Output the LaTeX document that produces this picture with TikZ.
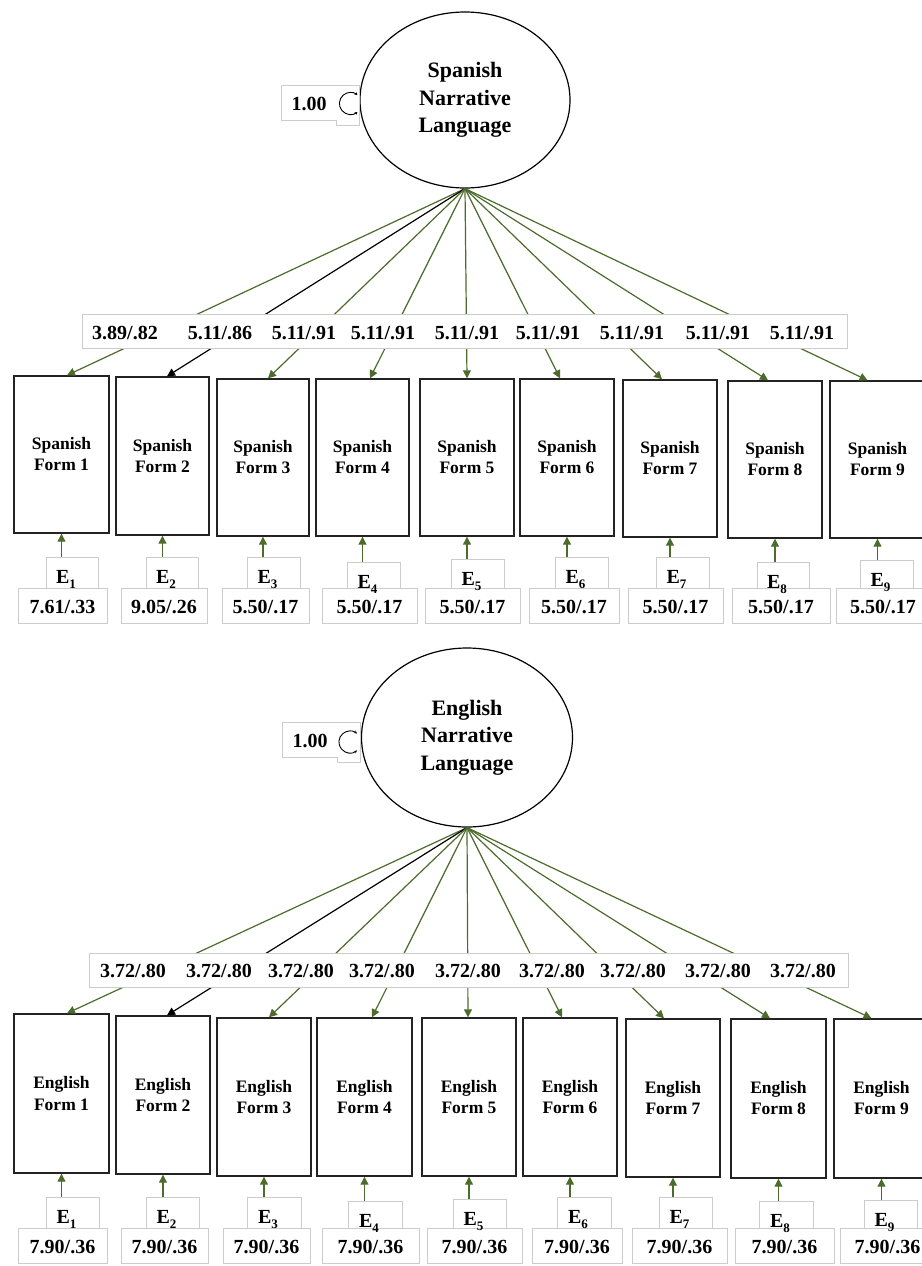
\documentclass[tikz,border=0pt]{standalone}
\usepackage{fontspec}
\setmainfont{Liberation Serif}
\usetikzlibrary{arrows.meta,shapes.geometric,calc}
\definecolor{lgreen}{RGB}{76,108,44}
\definecolor{gbox}{RGB}{204,204,204}
\definecolor{dbox}{RGB}{35,35,35}
\newcommand\Esb[1]{E\raisebox{-0.28em}{\fontsize{13}{13}\selectfont #1}}
\tikzset{
 indbox/.style={draw=dbox, line width=1.4pt, fill=white, inner sep=0pt, align=center, font=\fontsize{17.5}{21}\selectfont\bfseries},
 gbx/.style={draw=gbox, line width=0.9pt, fill=white, inner sep=0pt},
 latent/.style={draw=black, line width=1.2pt, ellipse, fill=white, inner sep=0pt, align=center, font=\fontsize{22}{27.5}\selectfont\bfseries},
 loadarr/.style={line width=1.2pt, -{Triangle[length=8pt,width=8pt]}},
 errarr/.style={line width=1.2pt, lgreen, -{Triangle[length=8pt,width=8pt]}},
 lbltxt/.style={font=\fontsize{20}{24}\selectfont\bfseries, inner sep=0pt, anchor=base},
 looparr/.style={line width=0.9pt, black, {Stealth[length=3pt,width=3pt]}-{Stealth[length=3pt,width=3pt]}},
}
\begin{document}
\begin{tikzpicture}[x=1pt,y=-1pt]
\fill[white] (0,0) rectangle (921,1266);
\useasboundingbox (0,0) rectangle (921,1266);

% ================= Spanish =================
\node[latent, minimum width=210pt, minimum height=176pt] (sl) at (465,100) {Spanish\\Narrative\\Language};
\draw[gbx] (281,85) -- (359,85) -- (359,125) -- (336,125) -- (336,120) -- (281,120) -- cycle;
\node[lbltxt] (svar) at (309,110) {1.00};
\coordinate (slp) at ($(sl.west)+(-9,3.5)$);
\draw[looparr] ($(slp)+(50:11)$) arc[start angle=50,end angle=310,radius=11];

\foreach \i/\bl/\br/\bt/\bb/\toff/\lc in {
 1/14/109/376/533/5.5/lgreen, 2/116/209/377/535/4.5/black, 3/217/309/379/536/5/lgreen,
 4/316/409/379/536/7.5/lgreen, 5/420/514/379/536/0/lgreen, 6/520/614/379/536/-7/lgreen,
 7/623/717/380/537/-8/lgreen, 8/728/822/381/538/-7/lgreen, 9/830/925/381/538/-10/lgreen}{
 \pgfmathsetmacro\cx{(\bl+\br)/2}
 \pgfmathsetmacro\cy{(\bt+\bb)/2}
 \pgfmathsetmacro\w{\br-\bl}
 \pgfmathsetmacro\h{\bb-\bt}
 \node[indbox, minimum width=\w pt, minimum height=\h pt] (sb\i) at (\cx,\cy) {Spanish\\Form \i};
 \coordinate (st\i) at ($(sb\i.north)+(\toff,0)$);
 \draw[loadarr, \lc] (sl.south) -- (st\i);
}
\node[gbx, minimum width=765pt, minimum height=34pt] (slab) at (464.5,331) {};
\foreach \i/\lx/\la/\lb in {1/125/3.89/.82, 2/220/5.11/.86, 3/304/5.11/.91, 4/383/5.11/.91,
 5/467/5.11/.91, 6/548/5.11/.91, 7/632/5.11/.91, 8/718/5.11/.91, 9/802/5.11/.91}{
 \node[lbltxt] (sll\i) at (\lx,339) {\la/\lb};
}
\foreach \i/\el/\er/\et/\vl/\vr/\va/\vb in {
 1/46/98/557/18/107/7.61/.33, 2/146/198/557/121/207/9.05/.26, 3/247/300/557/222/309/5.50/.17,
 4/347/400/562/322/417/5.50/.17, 5/451/504/559/425/520/5.50/.17, 6/555/608/557/529/619/5.50/.17,
 7/656/709/557/628/723/5.50/.17, 8/757/809/562/732/830/5.50/.17, 9/860/913/560/836/930/5.50/.17}{
 \pgfmathsetmacro\ecx{(\el+\er)/2}
 \pgfmathsetmacro\ecy{(\et+588)/2}
 \pgfmathsetmacro\ew{\er-\el}
 \pgfmathsetmacro\eh{588-\et}
 \pgfmathsetmacro\vcx{(\vl+\vr)/2}
 \pgfmathsetmacro\vw{\vr-\vl}
 \node[gbx, minimum width=\ew pt, minimum height=\eh pt] (se\i) at (\ecx,\ecy) {};
 \node[gbx, minimum width=\vw pt, minimum height=35pt] (sv\i) at (\vcx,605.5) {};
 \node[lbltxt] (set\i) at (\ecx-6,\et+26) {\Esb{\i}};
 \node[lbltxt] (svt\i) at (\vcx,613) {\va/\vb};
 \draw[errarr] (se\i.north -| sb\i.south) -- (sb\i.south);
}

% ================= English =================
\node[latent, minimum width=211pt, minimum height=179pt] (el) at (467,737.5) {English\\Narrative\\Language};
\draw[gbx] (282,722) -- (360,722) -- (360,762) -- (337,762) -- (337,757) -- (282,757) -- cycle;
\node[lbltxt] (evar) at (310,747) {1.00};
\coordinate (elp) at ($(el.west)+(-11,4.5)$);
\draw[looparr] ($(elp)+(50:11)$) arc[start angle=50,end angle=310,radius=11];

\foreach \i/\bl/\br/\bt/\bb/\toff/\lc in {
 1/14/109/1014/1173/5.5/lgreen, 2/116/210/1016/1174/4/black, 3/217/311/1018/1176/5/lgreen,
 4/317/412/1018/1176/7.5/lgreen, 5/422/516/1018/1176/-1/lgreen, 6/523/617/1018/1176/-8/lgreen,
 7/626/720/1019/1177/-9/lgreen, 8/731/826/1019/1178/-8.5/lgreen, 9/834/929/1019/1178/-10/lgreen}{
 \pgfmathsetmacro\cx{(\bl+\br)/2}
 \pgfmathsetmacro\cy{(\bt+\bb)/2}
 \pgfmathsetmacro\w{\br-\bl}
 \pgfmathsetmacro\h{\bb-\bt}
 \node[indbox, minimum width=\w pt, minimum height=\h pt] (eb\i) at (\cx,\cy) {English\\Form \i};
 \coordinate (et\i) at ($(eb\i.north)+(\toff,0)$);
 \draw[loadarr, \lc] (el.south) -- (et\i);
}
\node[gbx, minimum width=759pt, minimum height=34pt] (elab) at (468.5,970) {};
\foreach \i/\lx in {1/133, 2/219, 3/301, 4/382, 5/468, 6/552, 7/633, 8/718, 9/803}{
 \node[lbltxt] (ell\i) at (\lx,977) {3.72/.80};
}
\foreach \i/\el/\er/\et/\vl/\vr in {
 1/46/99/1197/18/107, 2/146/199/1197/121/208, 3/247/301/1197/223/310,
 4/348/402/1201/322/419, 5/453/506/1199/427/522, 6/557/611/1197/532/622,
 7/659/712/1197/632/727, 8/759/813/1201/735/834, 9/864/917/1200/840/935}{
 \pgfmathsetmacro\ecx{(\el+\er)/2}
 \pgfmathsetmacro\ecy{(\et+1228)/2}
 \pgfmathsetmacro\ew{\er-\el}
 \pgfmathsetmacro\eh{1228-\et}
 \pgfmathsetmacro\vcx{(\vl+\vr)/2}
 \pgfmathsetmacro\vw{\vr-\vl}
 \node[gbx, minimum width=\ew pt, minimum height=\eh pt] (ee\i) at (\ecx,\ecy) {};
 \node[gbx, minimum width=\vw pt, minimum height=35pt] (ev\i) at (\vcx,1245.5) {};
 \node[lbltxt] (eet\i) at (\ecx-6,\et+26) {\Esb{\i}};
 \node[lbltxt] (evt\i) at (\vcx,1253) {7.90/.36};
 \draw[errarr] (ee\i.north -| eb\i.south) -- (eb\i.south);
}
\end{tikzpicture}
\end{document}
